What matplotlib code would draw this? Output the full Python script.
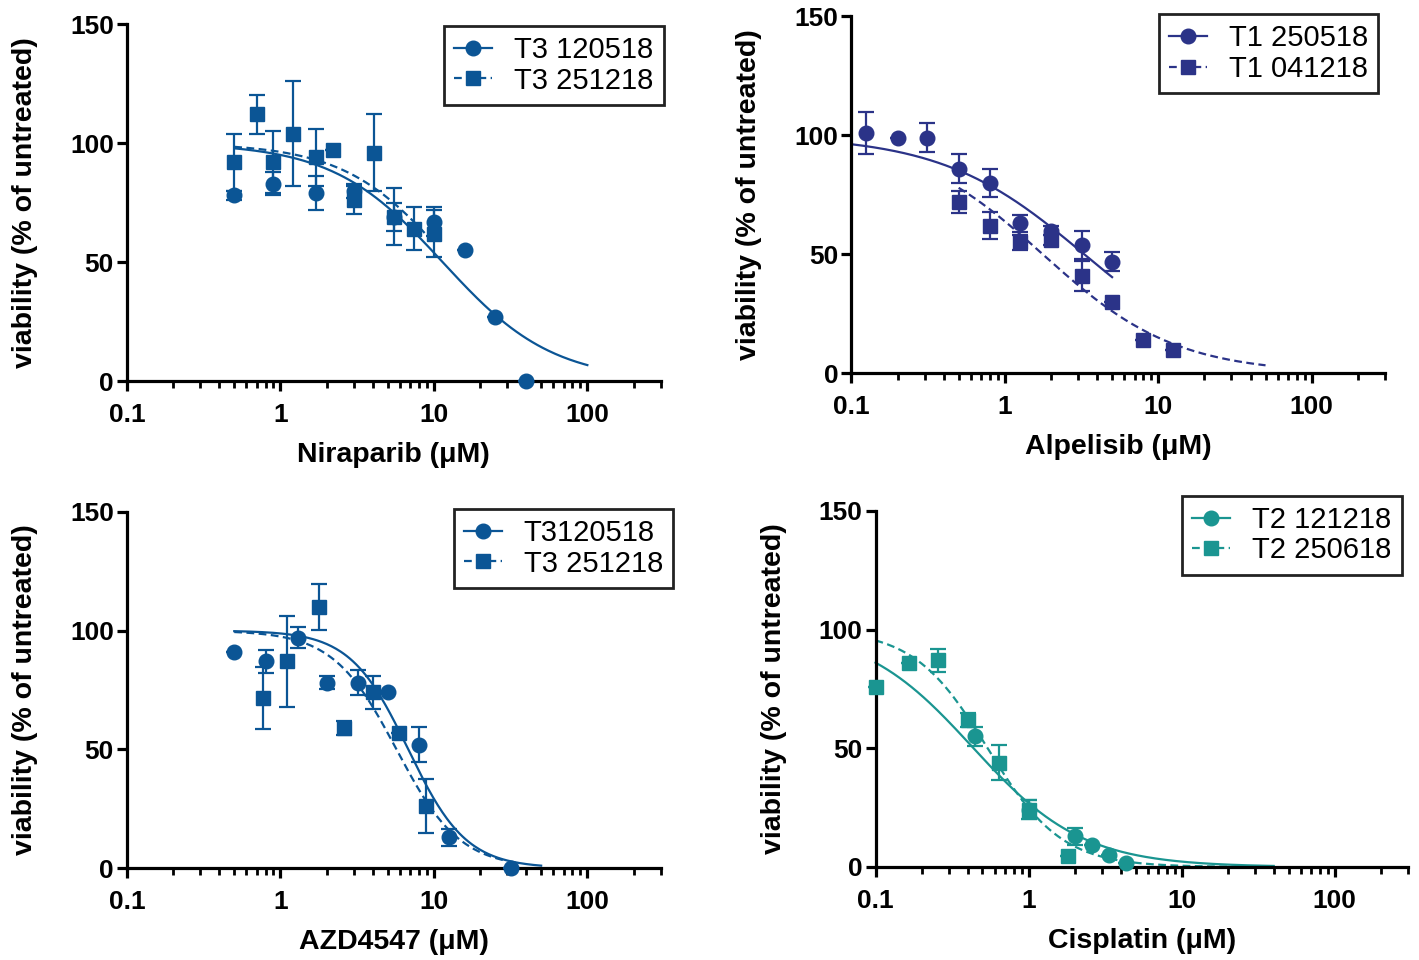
import numpy as np
import matplotlib
matplotlib.use("Agg")
import matplotlib.pyplot as plt
from matplotlib.ticker import LogLocator, NullFormatter

plt.rcParams['font.family'] = ['Liberation Sans', 'DejaVu Sans']

# ---------------- datos ----------------
# Niraparib
nira_x1 = [0.5, 0.9, 1.7, 3.0, 5.5, 10, 16, 25, 40]
nira_y1 = [78, 83, 79, 80, 69, 67, 55, 27, 0]
nira_e1 = [2, 5, 7, 3, 6, 6, 0, 0, 0]
nira_x2 = [0.5, 0.7, 0.9, 1.2, 1.7, 2.2, 3.0, 4.1, 5.5, 7.4, 10]
nira_y2 = [92, 112, 92, 104, 94, 97, 76, 96, 69, 64, 62]
nira_e2 = [12, 8, 13, 22, 12, 0, 6, 16, 12, 9, 10]

# Alpelisib
alpe_x1 = [0.125, 0.2, 0.31, 0.5, 0.8, 1.25, 2.0, 3.2, 5.0]
alpe_y1 = [101, 99, 99, 86, 80, 63, 60, 54, 47]
alpe_e1 = [9, 0, 6, 6, 6, 3.5, 2, 6, 4]
alpe_x2 = [0.5, 0.8, 1.25, 2.0, 3.2, 5.0, 8.0, 12.5]
alpe_y2 = [72, 62, 55, 56, 41, 30, 14, 10]
alpe_e2 = [4.5, 5.7, 3, 2, 6.3, 0, 0, 0]

# AZD4547
azd_x1 = [0.5, 0.8, 1.3, 2.0, 3.2, 5.0, 8.0, 12.6, 31.6]
azd_y1 = [91, 87, 97, 78, 78, 74, 52, 13, 0]
azd_e1 = [0, 5, 4.4, 2.7, 5.3, 0, 7.2, 3.6, 0]
azd_x2 = [0.77, 1.1, 1.78, 2.6, 4.0, 5.9, 8.9]
azd_y2 = [71.5, 87, 110, 59, 74, 57, 26]
azd_e2 = [13, 19, 9.7, 3, 7, 0, 11.4]

# Cisplatin
cis_x1 = [0.45, 1.0, 2.0, 2.6, 3.35, 4.35]
cis_y1 = [55, 24, 13, 9.3, 5, 1.8]
cis_e1 = [4, 4, 3.6, 0, 0, 0]
cis_x2 = [0.1, 0.165, 0.257, 0.40, 0.64, 1.0, 1.82]
cis_y2 = [76, 86, 87, 62, 44, 24, 4.6]
cis_e2 = [0, 0, 5, 3, 7.3, 4, 0]

# parametros del ajuste (top, bottom, IC50, hill, x inicio, x fin)
nira_fit1 = [100, 0, 11.4, 1.21, 0.5, 100]
nira_fit2 = [100, 0, 12.9, 1.27, 0.5, 9.2]
alpe_fit1 = [100, 0, 3.3, 0.93, 0.1, 5.0]
alpe_fit2 = [100, 0, 1.77, 1.0, 0.5, 50]
azd_fit1 = [100, 0, 6.8, 2.3, 0.5, 50]
azd_fit2 = [100, 0, 5.7, 2.1, 0.5, 30]
cis_fit1 = [101, 0, 0.43, 1.2, 0.1, 40]
cis_fit2 = [100, 0, 0.54, 1.8, 0.1, 40]

nombres = ["Niraparib (\u03bcM)", "Alpelisib (\u03bcM)", "AZD4547 (\u03bcM)", "Cisplatin (\u03bcM)"]
leyendas = [["T3 120518", "T3 251218"], ["T1 250518", "T1 041218"],
            ["T3120518", "T3 251218"], ["T2 121218", "T2 250618"]]
colores = ["#0B5595", "#2B3388", "#0B5595", "#1A9591"]

yticks = [0, 50, 100, 150]
xticks = [0.1, 1, 10, 100]
xtick_labels = ["0.1", "1", "10", "100"]


def curva(fit):
    top, bot, ic, h, x0, x1 = fit
    xs = np.logspace(np.log10(x0), np.log10(x1), 200)
    return xs, bot + (top - bot) / (1 + (xs / ic) ** h)


def panel(ax, x1, y1, e1, x2, y2, e2, f1, f2, color, labels, xlabel, ancla):
    xs, ys = curva(f1)
    ax.plot(xs, ys, color=color, lw=1.6, zorder=2, clip_on=False)
    xs, ys = curva(f2)
    ax.plot(xs, ys, color=color, lw=1.6, ls=(0, (3.5, 2)), zorder=2, clip_on=False)
    ax.errorbar(x1, y1, yerr=e1, fmt='o', color=color, ms=10.5, capsize=5.5,
                elinewidth=1.6, capthick=1.6, zorder=3, clip_on=False)
    ax.errorbar(x2, y2, yerr=e2, fmt='s', color=color, ms=10.5, capsize=5.5,
                elinewidth=1.6, capthick=1.6, zorder=3, clip_on=False)
    # entradas de la leyenda
    h1, = ax.plot([], [], marker='o', color=color, ms=10.5, lw=1.6)
    h2, = ax.plot([], [], marker='s', color=color, ms=10.5, lw=1.6, ls=(0, (3.5, 2)))
    leg = ax.legend([h1, h2], labels, loc='upper right', fontsize=21,
                    fancybox=False, framealpha=1, edgecolor='#222222',
                    handlelength=1.3, handletextpad=0.75, borderpad=0.35,
                    labelspacing=0.08, borderaxespad=0.0,
                    bbox_to_anchor=ancla)
    leg.get_frame().set_linewidth(2)

    ax.set_xscale('log')
    ax.set_xlim(0.1, 300)
    ax.set_ylim(0, 150)
    ax.set_yticks(yticks)
    ax.set_xticks(xticks)
    ax.set_xticklabels(xtick_labels)
    ax.xaxis.set_minor_locator(LogLocator(base=10, subs=np.arange(2, 10), numticks=20))
    ax.xaxis.set_minor_formatter(NullFormatter())
    for s in ['top', 'right']:
        ax.spines[s].set_visible(False)
    for s in ['left', 'bottom']:
        ax.spines[s].set_linewidth(2.3)
    ax.tick_params(axis='both', which='major', width=2.3, length=7.5, labelsize=19)
    ax.tick_params(axis='x', which='major', pad=8)
    ax.tick_params(axis='y', which='major', pad=2)
    ax.tick_params(axis='x', which='minor', width=2.0, length=5)
    ax.tick_params(axis='y', which='minor', left=False)
    for t in ax.get_xticklabels() + ax.get_yticklabels():
        t.set_fontweight('bold')
    ax.set_xlabel(xlabel, fontsize=20.5, fontweight='bold', labelpad=11)
    ax.set_ylabel("viability (% of untreated)", fontsize=20.5, fontweight='bold', labelpad=23)


fig = plt.figure(figsize=(14.19, 9.6), dpi=100)
ax1 = fig.add_axes([0.0895, 0.603, 0.376, 0.372])
ax2 = fig.add_axes([0.600, 0.611, 0.376, 0.372])
ax3 = fig.add_axes([0.0895, 0.0958, 0.376, 0.371])
ax4 = fig.add_axes([0.617, 0.0969, 0.375, 0.371])

panel(ax1, nira_x1, nira_y1, nira_e1, nira_x2, nira_y2, nira_e2,
      nira_fit1, nira_fit2, colores[0], leyendas[0], nombres[0], (1.006, 0.994))
panel(ax2, alpe_x1, alpe_y1, alpe_e1, alpe_x2, alpe_y2, alpe_e2,
      alpe_fit1, alpe_fit2, colores[1], leyendas[1], nombres[1], (0.987, 1.006))
panel(ax3, azd_x1, azd_y1, azd_e1, azd_x2, azd_y2, azd_e2,
      azd_fit1, azd_fit2, colores[2], leyendas[2], nombres[2], (1.024, 1.008))
panel(ax4, cis_x1, cis_y1, cis_e1, cis_x2, cis_y2, cis_e2,
      cis_fit1, cis_fit2, colores[3], leyendas[3], nombres[3], (0.989, 1.042))

fig.savefig("out.png", dpi=100)
